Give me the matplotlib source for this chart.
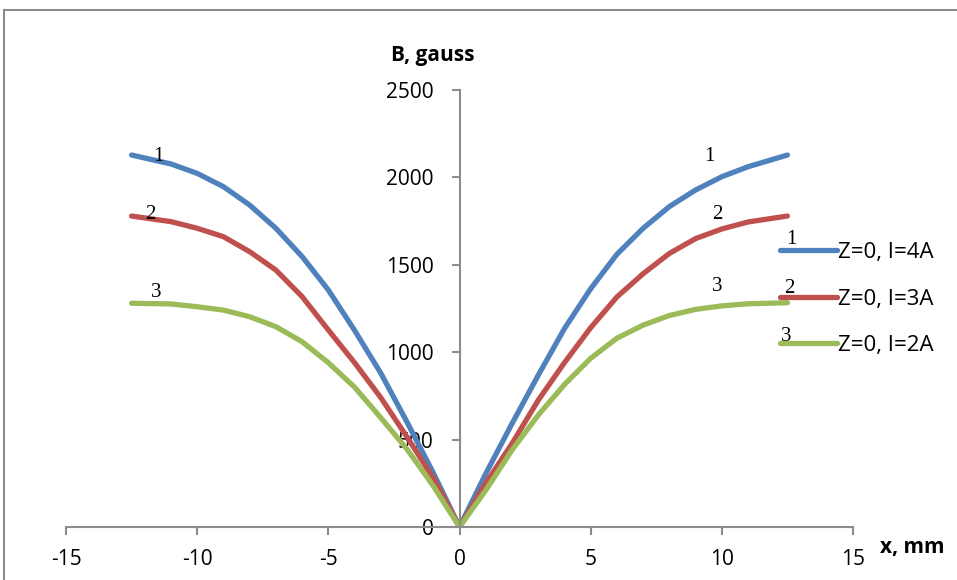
import matplotlib
matplotlib.use("Agg")
import matplotlib.pyplot as plt
from matplotlib.lines import Line2D

plt.rcParams['font.family'] = ['Open Sans', 'DejaVu Sans']
plt.rcParams['axes.unicode_minus'] = False

# ---- data ----
x_mm = [-12.5, -11, -10, -9, -8, -7, -6, -5, -4, -3, -2, -1, 0,
        1, 2, 3, 4, 5, 6, 7, 8, 9, 10, 11, 12.5]
b_4A = [2128, 2077, 2023, 1947, 1842, 1709, 1547, 1356, 1125, 880, 600, 310, 0,
        305, 591, 868, 1135, 1363, 1560, 1709, 1833, 1928, 2004, 2061, 2128]
b_3A = [1779, 1747, 1709, 1661, 1575, 1470, 1318, 1127, 940, 740, 515, 280, 0,
        250, 477, 725, 940, 1140, 1316, 1449, 1565, 1650, 1705, 1745, 1779]
b_2A = [1280, 1276, 1260, 1241, 1203, 1146, 1060, 940, 800, 625, 445, 235, 0,
        210, 440, 640, 815, 965, 1080, 1155, 1210, 1245, 1265, 1277, 1283]
series_labels = ["Z=0, I=4A", "Z=0, I=3A", "Z=0, I=2A"]
curve_numbers = ["1", "2", "3"]
x_ticks = [-15, -10, -5, 0, 5, 10, 15]
y_ticks = [0, 500, 1000, 1500, 2000, 2500]

colors = ["#4F81BD", "#C0504D", "#9BBB59"]

W, H = 957, 580
fig = plt.figure(figsize=(W / 100, H / 100), dpi=100)
ax = fig.add_axes([66 / W, (H - 527) / H, 787 / W, 437 / H])

for yv, c, lab in zip([b_4A, b_3A, b_2A], colors, series_labels):
    ax.plot(x_mm, yv, color=c, lw=3.8, label=lab, solid_capstyle='round',
            solid_joinstyle='round')

ax.set_xlim(-15, 15)
ax.set_ylim(0, 2500)
ax.set_xticks(x_ticks)
ax.set_yticks(y_ticks)

for s in ['top', 'right']:
    ax.spines[s].set_visible(False)
ax.spines['left'].set_position(('data', 0))
ax.spines['bottom'].set_position(('data', 0))
for s in ['left', 'bottom']:
    ax.spines[s].set_color('#8C8C8C')
    ax.spines[s].set_linewidth(1.5)
ax.tick_params(axis='both', direction='out', length=5.5, width=1.5,
               color='#8C8C8C', labelsize=15, labelcolor='black')
ax.tick_params(axis='y', pad=13)
ax.tick_params(axis='x', pad=10)

# curve numbers (serif)
serif = ['Liberation Serif', 'DejaVu Serif']
num_pos = [((-11.47, 2117), (9.52, 2117), (12.65, 1642)),
           ((-11.78, 1785), (9.82, 1785), (12.57, 1367)),
           ((-11.55, 1344), (9.82, 1373), (12.45, 1087))]
for num, poss in zip(curve_numbers, num_pos):
    for (px, py) in poss:
        ax.text(px, py, num, family=serif, fontsize=15, ha='center',
                va='center', clip_on=False)

leg = ax.legend(loc='center left', bbox_to_anchor=(780 / W, 1 - 299 / H),
                bbox_transform=fig.transFigure, frameon=False, fontsize=16,
                handlelength=2.55, handletextpad=0.05, labelspacing=1.15,
                borderpad=0, borderaxespad=0)

fig.text(433 / W, 1 - 55 / H, "B, gauss", fontsize=15, fontweight='bold',
         ha='center', va='center')
fig.text(912 / W, 1 - 548 / H, "x, mm", fontsize=15, fontweight='bold',
         ha='center', va='center')

# outer chart frame
fig.add_artist(Line2D([3.5 / W, 3.5 / W], [0, 1 - 10 / H], transform=fig.transFigure,
                      color='#8C8C8C', lw=1.5))
fig.add_artist(Line2D([3.5 / W, 1], [1 - 10 / H, 1 - 10 / H], transform=fig.transFigure,
                      color='#8C8C8C', lw=1.5))

fig.savefig("out.png", dpi=100)
